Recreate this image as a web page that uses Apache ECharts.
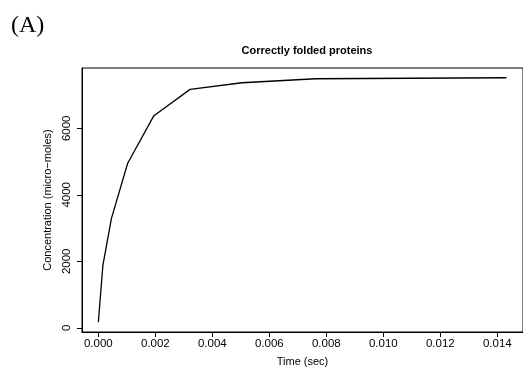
<!DOCTYPE html>
<html>
<head>
<meta charset="utf-8">
<script src="https://cdn.jsdelivr.net/npm/echarts@6/dist/echarts.min.js"></script>
<style>
  html, body { margin: 0; padding: 0; background: #fff; }
  #chart { width: 523px; height: 372px; }
</style>
</head>
<body>
<div id="chart"></div>
<script>
// values
const timeSec = [0, 0.00016, 0.00046, 0.00103, 0.00195, 0.00322, 0.00504, 0.00763, 0.01432]
const concentration = [170, 1880, 3290, 4950, 6380, 7170, 7370, 7490, 7520]
const xTicks = [0, 0.002, 0.004, 0.006, 0.008, 0.010, 0.012, 0.014]
const yTicks = [0, 2000, 4000, 6000]

const chart = echarts.init(document.getElementById('chart'))
const font = 'Liberation Sans, Arial, Helvetica, sans-serif'

chart.setOption({
  animation: false,
  backgroundColor: '#fff',
  title: [
    {
      text: '(A)',
      left: 11, top: 14, padding: 0,
      textStyle: { fontFamily: 'Liberation Serif, Times New Roman, serif', fontSize: 24, fontWeight: 'normal', color: '#000' }
    },
    {
      text: 'Correctly folded proteins',
      left: 307, top: 45, padding: 0, textAlign: 'center',
      textStyle: { fontFamily: font, fontSize: 11, fontWeight: 'bold', color: '#000' }
    }
  ],
  grid: {
    left: 82, top: 68, width: 451, height: 268,
    show: true, borderColor: '#000', borderWidth: 1, backgroundColor: 'transparent'
  },
  xAxis: {
    type: 'value',
    min: -0.000573,
    max: 0.0149,
    name: 'Time (sec)',
    nameLocation: 'middle',
    nameGap: 24,
    nameTextStyle: { fontFamily: font, fontSize: 11, color: '#000' },
    splitLine: { show: false },
    axisLine: { show: true, onZero: false, lineStyle: { color: '#000', width: 1 } },
    axisTick: { show: true, length: 5, customValues: xTicks, lineStyle: { color: '#000' } },
    axisLabel: {
      customValues: xTicks, margin: 6,
      fontFamily: font, fontSize: 11.5, color: '#000',
      formatter: v => v.toFixed(3)
    }
  },
  yAxis: {
    type: 'value',
    min: -125,
    max: 7813,
    name: 'Concentration (micro\u2212moles)',
    nameLocation: 'middle',
    nameGap: 24,
    nameRotate: 90,
    nameTextStyle: { fontFamily: font, fontSize: 11, color: '#000' },
    splitLine: { show: false },
    axisLine: { show: true, onZero: false, lineStyle: { color: '#000', width: 1 } },
    axisTick: { show: true, length: 5, customValues: yTicks, lineStyle: { color: '#000' } },
    axisLabel: {
      customValues: yTicks, margin: 9, rotate: 90,
      fontFamily: font, fontSize: 11.5, color: '#000',
      formatter: v => String(v)
    }
  },
  series: [{
    type: 'line',
    data: timeSec.map((t, i) => [t, concentration[i]]),
    showSymbol: false,
    lineStyle: { color: '#000', width: 1.3 },
    silent: true
  }]
})
</script>
</body>
</html>
